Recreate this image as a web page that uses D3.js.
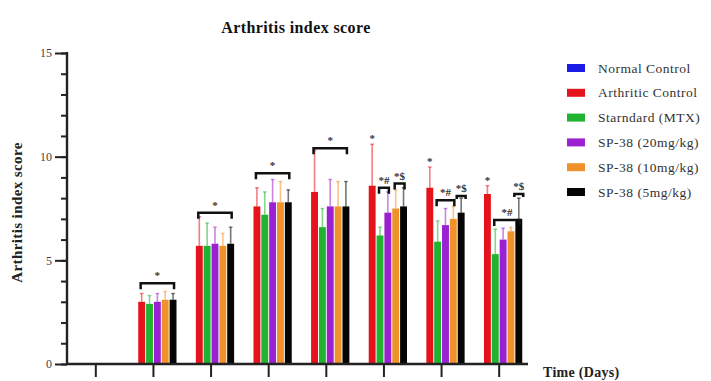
<!DOCTYPE html>
<html>
<head>
<meta charset="utf-8">
<script src="https://cdn.jsdelivr.net/npm/d3@7"></script>
<style>
  html, body { margin: 0; padding: 0; background: #fff; }
  svg { display: block; }
  text { font-family: "Liberation Serif", "DejaVu Serif", serif; }
</style>
</head>
<body>
<svg id="chart" width="711" height="381"></svg>
<script>
// Sampling points along the time axis (no labels are printed under the ticks)
const timepoints = ["T0", "T1", "T2", "T3", "T4", "T5", "T6", "T7"];

// Group names and colours
const groups = ["Normal Control", "Arthritic Control", "Starndard (MTX)",
                "SP-38 (20mg/kg)", "SP-38 (10mg/kg)", "SP-38 (5mg/kg)"];
const groupColors = ["#1a1ae6", "#e5141c", "#22b232", "#9a20d2", "#f0922c", "#050505"];

// Mean arthritis index score per group and timepoint
const normalControl    = [0, 0,   0,   0,   0,   0,   0,   0];
const arthriticControl = [0, 3.0, 5.7, 7.6, 8.3, 8.6, 8.5, 8.2];
const standardMTX      = [0, 2.9, 5.7, 7.2, 6.6, 6.2, 5.9, 5.3];
const sp38_20          = [0, 3.0, 5.8, 7.8, 7.6, 7.3, 6.7, 6.0];
const sp38_10          = [0, 3.1, 5.7, 7.8, 7.6, 7.5, 7.0, 6.4];
const sp38_5           = [0, 3.1, 5.8, 7.8, 7.6, 7.6, 7.3, 7.0];

// Upper error (SD) per group and timepoint
const errNormal    = [0, 0,   0,   0,   0,   0,   0,   0];
const errArthritic = [0, 0.4, 1.4, 0.9, 2.0, 2.0, 1.0, 0.4];
const errStandard  = [0, 0.4, 1.1, 1.1, 0.9, 0.4, 1.0, 1.2];
const errSp20      = [0, 0.4, 0.8, 1.1, 1.3, 1.0, 0.8, 0.55];
const errSp10      = [0, 0.4, 0.6, 1.0, 1.2, 0.9, 0.6, 0.2];
const errSp5       = [0, 0.3, 0.8, 0.6, 1.2, 0.9, 0.7, 1.0];

// Y axis ticks
const yMajorTicks = [0, 5, 10, 15];

// Significance brackets: timepoint, first group, last group, height, label
const sigTime  = [1, 2, 3, 4, 5, 5, 6, 6, 7, 7];
const sigFrom  = [1, 1, 1, 1, 2, 4, 2, 5, 2, 5];
const sigTo    = [5, 5, 5, 5, 3, 5, 4, 5, 5, 5];
const sigLevel = [3.9, 7.3, 9.2, 10.4, 8.5, 8.7, 7.9, 8.1, 6.95, 8.2];
const sigLabel = ["*", "*", "*", "*", "*#", "*$", "*#", "*$", "*#", "*$"];

// Single stars over the arthritic control whisker
const starTime = [5, 6, 7];

const means = [normalControl, arthriticControl, standardMTX, sp38_20, sp38_10, sp38_5];
const errs  = [errNormal, errArthritic, errStandard, errSp20, errSp10, errSp5];

const svg = d3.select("#chart");
const plot = { left: 67, right: 528, top: 53, bottom: 364 };

const x0 = d3.scaleBand().domain(timepoints).range([plot.left, plot.right])
  .paddingInner(0.167).paddingOuter(0.0835);
const x1 = d3.scaleBand().domain(d3.range(groups.length)).range([0, x0.bandwidth()])
  .padding(0.12);
const y = d3.scaleLinear().domain([0, 15]).range([plot.bottom, plot.top]);

// Title
svg.append("text")
  .attr("x", 296).attr("y", 33)
  .attr("text-anchor", "middle")
  .attr("font-size", 16).attr("font-weight", "bold").attr("fill", "#111")
  .attr("letter-spacing", 0.4)
  .text("Arthritis index score");

// Y axis label
svg.append("text")
  .attr("transform", `translate(22, ${(plot.top + plot.bottom) / 2 + 4}) rotate(-90)`)
  .attr("text-anchor", "middle")
  .attr("font-size", 15).attr("font-weight", "bold").attr("fill", "#222")
  .attr("letter-spacing", 0.4)
  .text("Arthritis index score");

// Bars
const barLayer = svg.append("g");
timepoints.forEach((t, ti) => {
  const g = barLayer.append("g").attr("transform", `translate(${x0(t)},0)`);
  groups.forEach((name, gi) => {
    const v = means[gi][ti];
    if (v <= 0) return;
    const bx = x1(gi), bw = x1.bandwidth();
    const cx = bx + bw / 2;
    const top = y(v + errs[gi][ti]);
    // error whisker above the bar
    g.append("line")
      .attr("x1", cx).attr("x2", cx)
      .attr("y1", y(v)).attr("y2", top)
      .attr("stroke", groupColors[gi]).attr("stroke-opacity", 0.55)
      .attr("stroke-width", 1.6);
    g.append("line")
      .attr("x1", cx - 1.8).attr("x2", cx + 1.8)
      .attr("y1", top).attr("y2", top)
      .attr("stroke", groupColors[gi]).attr("stroke-opacity", 0.55)
      .attr("stroke-width", 1.4);
    g.append("rect")
      .attr("x", bx).attr("width", bw)
      .attr("y", y(v)).attr("height", y(0) - y(v))
      .attr("fill", groupColors[gi]);
  });
});

// Significance brackets
const sigLayer = svg.append("g");
sigTime.forEach((ti, i) => {
  const base = x0(timepoints[ti]);
  const single = sigFrom[i] === sigTo[i];
  const a = base + x1(sigFrom[i]) + (single ? 0 : x1.bandwidth() / 2) - 1;
  const b = base + x1(sigTo[i]) + (single ? x1.bandwidth() : x1.bandwidth() / 2) + 1;
  const yy = y(sigLevel[i]);
  const drop = single ? 3 : 6;
  sigLayer.append("path")
    .attr("d", `M${a},${yy + drop}V${yy}H${b}V${yy + drop}`)
    .attr("fill", "none").attr("stroke", "#111").attr("stroke-width", 2.5);
  sigLayer.append("text")
    .attr("x", (a + b) / 2).attr("y", yy - 4)
    .attr("text-anchor", "middle")
    .attr("font-size", 11).attr("font-weight", "bold").attr("fill", "#333")
    .text(sigLabel[i]);
});

// Stars above the arthritic control whiskers
starTime.forEach(ti => {
  const cx = x0(timepoints[ti]) + x1(1) + x1.bandwidth() / 2;
  sigLayer.append("text")
    .attr("x", cx).attr("y", y(arthriticControl[ti] + errArthritic[ti]) - 2)
    .attr("text-anchor", "middle")
    .attr("font-size", 11).attr("font-weight", "bold").attr("fill", "#333")
    .text("*");
});

// Y axis with major and minor ticks
const yAxis = svg.append("g").attr("transform", `translate(${plot.left},0)`);
yAxis.call(d3.axisLeft(y).tickValues(d3.range(0, 16, 1)).tickSize(6).tickFormat(""))
  .call(g => g.select(".domain").remove());
yAxis.append("g")
  .call(d3.axisLeft(y).tickValues(yMajorTicks).tickSize(12).tickPadding(3).tickFormat(d3.format("d")))
  .call(g => g.select(".domain").remove())
  .call(g => g.selectAll("text").attr("font-size", 12).attr("fill", "#444")
    .attr("font-family", "Liberation Serif, serif"));
yAxis.selectAll(".tick line").attr("stroke", "#222").attr("stroke-width", 2);
yAxis.append("line")
  .attr("x1", 0).attr("x2", 0).attr("y1", plot.top - 1).attr("y2", plot.bottom + 1)
  .attr("stroke", "#222").attr("stroke-width", 2.4);

// X axis with unlabeled ticks
const xAxis = svg.append("g").attr("transform", `translate(0,${plot.bottom})`);
xAxis.call(d3.axisBottom(x0).tickSize(13).tickFormat(""))
  .call(g => g.select(".domain").remove());
xAxis.selectAll(".tick line").attr("stroke", "#222").attr("stroke-width", 2);
xAxis.append("line")
  .attr("x1", plot.left - 1).attr("x2", plot.right)
  .attr("stroke", "#222").attr("stroke-width", 2.4);

svg.append("text")
  .attr("x", 543).attr("y", 377)
  .attr("font-size", 14).attr("font-weight", "bold").attr("fill", "#222")
  .attr("letter-spacing", 0.3)
  .text("Time (Days)");

// Legend
const legend = svg.append("g").attr("transform", "translate(567,68)");
groups.forEach((name, gi) => {
  const row = legend.append("g").attr("transform", `translate(0,${gi * 24.8})`);
  row.append("rect").attr("x", 0).attr("y", -4).attr("width", 18).attr("height", 8)
    .attr("fill", groupColors[gi]);
  row.append("text").attr("x", 31).attr("y", 4.5)
    .attr("font-size", 13.5).attr("fill", "#333")
    .attr("letter-spacing", 0.5)
    .text(name);
});
</script>
</body>
</html>
